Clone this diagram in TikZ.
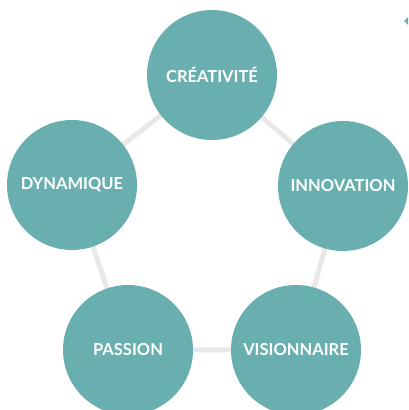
\documentclass[tikz,border=0pt]{standalone}
\usepackage{fontspec}
\setmainfont{Lato}
\usetikzlibrary{backgrounds}
\definecolor{teal1}{HTML}{6AAFB0}
\definecolor{link}{HTML}{E8E8E8}
\begin{document}
\begin{tikzpicture}[x=1pt,y=1pt,
  bubble/.style={circle,fill=teal1,minimum size=130pt,inner sep=0pt,text=white,font=\fontsize{16.5}{18}\selectfont\bfseries},
  linkline/.style={draw=link,line width=5pt}]
\useasboundingbox (0,0) rectangle (408,410);
\node[bubble] (cre) at (212,335) {CRÉATIVITÉ};
\node[bubble] (dyn) at (72,225) {DYNAMIQUE};
\node[bubble] (inn) at (343,224) {INNOVATION};
\node[bubble] (pas) at (128,60) {PASSION};
\node[bubble] (vis) at (296,60) {VISIONNAIRE};
\fill[teal1] (404,389) -- (408,393) -- (408,385) -- cycle;
\begin{scope}[on background layer]
\draw[linkline] (cre.center) -- (dyn.center) -- (pas.center) -- (vis.center) -- (inn.center) -- (cre.center);
\end{scope}
\end{tikzpicture}
\end{document}
